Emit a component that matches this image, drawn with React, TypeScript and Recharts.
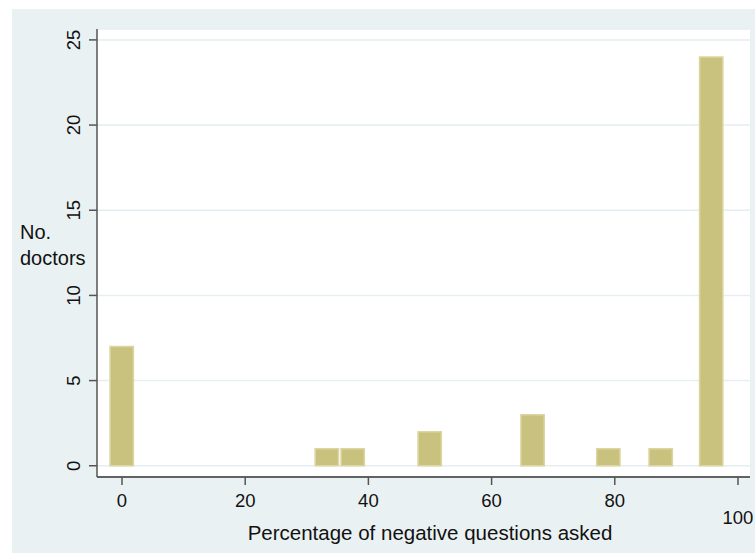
import React from 'react';
import { BarChart, Bar, XAxis, YAxis, CartesianGrid } from 'recharts';

// percentage of negative questions (bin centre) and number of doctors
const binCentres = [0, 33.3, 37.5, 50, 66.7, 79, 87.5, 95.7];
const doctorCounts = [7, 1, 1, 2, 3, 1, 1, 24];
const xTicks = [0, 20, 40, 60, 80, 100];
const yTicks = [0, 5, 10, 15, 20, 25];

const data = binCentres.map((x, i) => ({ x, count: doctorCounts[i] }));

const FONT = '"Liberation Sans", Arial, Helvetica, sans-serif';

const XTick = (props: any) => {
  const { x, y, payload } = props;
  // Stata pushes the last label down a row
  const dy = payload.value === 100 ? 37 : 19.5;
  return (
    <text x={x} y={y + dy} textAnchor="middle" fontSize={18.5} fill="#111" fontFamily={FONT}>
      {payload.value}
    </text>
  );
};

const YTick = (props: any) => {
  const { x, y, payload } = props;
  return (
    <text
      transform={`translate(${x - 7}, ${y}) rotate(-90)`}
      textAnchor="middle"
      fontSize={18.5}
      fill="#111"
      fontFamily={FONT}
    >
      {payload.value}
    </text>
  );
};

export default function App() {
  return (
    <div style={{ position: 'absolute', left: 0, top: 0, width: 755, height: 553, background: '#fff', fontFamily: FONT }}>
      <div style={{ position: 'absolute', left: 12, top: 9, right: 0, bottom: 0, background: '#eaf1f3' }} />
      <div style={{ position: 'absolute', left: 0, top: 0 }}>
        <BarChart width={755} height={553} data={data} margin={{ top: 29, right: 5, bottom: 0, left: 0 }}>
          <CartesianGrid vertical={false} fill="#ffffff" stroke="#e6eef1" strokeWidth={1.5} />
          <XAxis
            dataKey="x"
            type="number"
            domain={[-4.06, 101.95]}
            ticks={xTicks}
            interval={0}
            height={76}
            tickSize={8}
            tickMargin={2}
            axisLine={{ stroke: '#333', strokeWidth: 1.5 }}
            tickLine={{ stroke: '#555', strokeWidth: 1.5 }}
            tick={<XTick />}
            allowDataOverflow
          />
          <YAxis
            type="number"
            domain={[-0.66, 25.64]}
            ticks={yTicks}
            interval={0}
            width={97}
            tickSize={8}
            tickMargin={2}
            axisLine={{ stroke: '#555', strokeWidth: 1.5 }}
            tickLine={{ stroke: '#555', strokeWidth: 1.5 }}
            tick={<YTick />}
            allowDataOverflow
          />
          <Bar dataKey="count" barSize={26.7} fill="#c9c27e" stroke="#dbd5a0" strokeWidth={1.5} isAnimationActive={false} />
        </BarChart>
      </div>
      <div style={{ position: 'absolute', left: 20, top: 219, fontSize: 20, lineHeight: '26px', color: '#111' }}>
        No.
        <br />
        doctors
      </div>
      <div
        style={{
          position: 'absolute',
          left: 130,
          width: 600,
          top: 520,
          textAlign: 'center',
          fontSize: 20.5,
          lineHeight: '26px',
          color: '#111',
        }}
      >
        Percentage of negative questions asked
      </div>
    </div>
  );
}
